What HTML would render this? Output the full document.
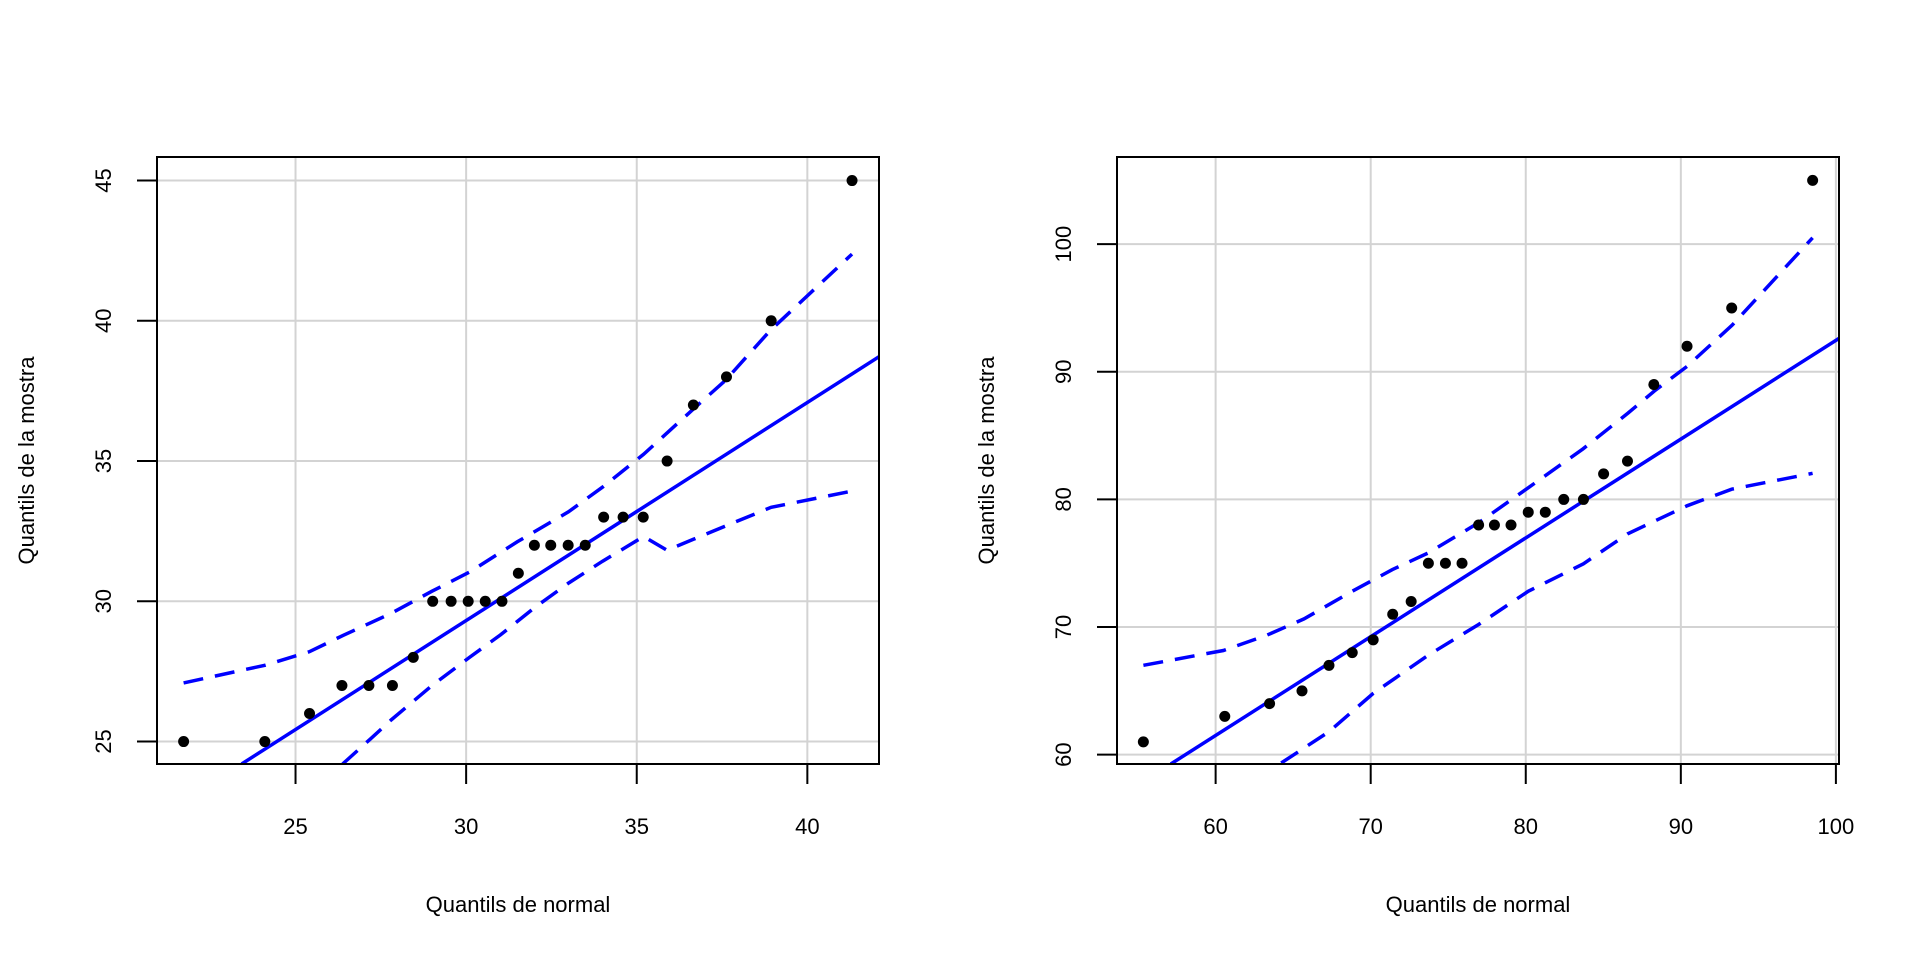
<!DOCTYPE html>
<html><head><meta charset="utf-8"><style>html,body{margin:0;padding:0;background:#fff}svg{display:block}text{font-family:"Liberation Sans",Arial,sans-serif;fill:#000}</style></head>
<body>
<svg id="chart" width="1920" height="960" viewBox="0 0 1920 960"></svg>
<script>
// Left panel data
const leftX = [21.72,24.10,25.41,26.36,27.15,27.84,28.45,29.02,29.56,30.06,30.56,31.05,31.53,32.0,32.48,32.99,33.49,34.03,34.60,35.19,35.89,36.66,37.63,38.94,41.31];
const leftY = [25,25,26,27,27,27,28,30,30,30,30,30,31,32,32,32,32,33,33,33,35,37,38,40,45];
const leftLine = [[23.42,24.2],[42.1,38.72]];
const leftUpper = [[21.72,27.09],[24.1,27.72],[25.4,28.2],[26.4,28.79],[27.8,29.57],[29.0,30.36],[30.1,31.04],[31.5,32.12],[33.0,33.19],[34.0,34.07],[35.2,35.24],[36.7,36.9],[37.6,37.88],[38.9,39.64],[41.31,42.38]];
const leftLower = [[26.38,24.2],[27.2,25.1],[27.8,25.77],[29.0,27.0],[30.1,28.0],[31.0,28.8],[32.0,29.77],[33.0,30.65],[34.0,31.43],[35.2,32.31],[35.89,31.82],[36.66,32.21],[37.63,32.70],[38.94,33.35],[41.31,33.93]];
const leftXTicks = [25,30,35,40];
const leftYTicks = [25,30,35,40,45];
// Right panel data
const rightX = [55.34,60.59,63.48,65.57,67.31,68.81,70.16,71.42,72.61,73.72,74.82,75.89,76.96,77.98,79.05,80.16,81.26,82.45,83.72,85.02,86.56,88.26,90.40,93.28,98.5];
const rightY = [61,63,64,65,67,68,69,71,72,75,75,75,78,78,78,79,79,80,80,82,83,89,92,95,105];
const rightLine = [[57.11,59.27],[100.24,92.65]];
const rightUpper = [[55.34,67.0],[60.5,68.16],[63.3,69.36],[65.7,70.64],[68.8,72.8],[71.4,74.5],[73.7,75.8],[77.0,78.2],[80.2,80.95],[83.7,83.97],[86.6,86.77],[88.3,88.5],[90.4,90.42],[93.3,93.64],[98.5,100.5]];
const rightLower = [[64.23,59.35],[67.31,61.8],[70.16,64.8],[73.72,67.8],[76.96,70.2],[80.16,72.8],[83.72,74.96],[86.56,77.3],[90.4,79.5],[93.28,80.8],[98.5,82.05]];
const rightXTicks = [60,70,80,90,100];
const rightYTicks = [60,70,80,90,100];

const svg = document.getElementById('chart');
const NS = 'http://www.w3.org/2000/svg';
function mk(tag, attrs, parent){const e=document.createElementNS(NS,tag);for(const k in attrs)e.setAttribute(k,attrs[k]);(parent||svg).appendChild(e);return e;}

function panel(id, off, xd, yd, px, py, line, up, lo, xt, yt){
  const L=157+off, R=879+off, T=157, B=764;
  const sx=v=>L+(v-xd[0])/(xd[1]-xd[0])*(R-L);
  const sy=v=>B-(v-yd[0])/(yd[1]-yd[0])*(B-T);
  const g=mk('g',{});
  
  
  const clip=mk('clipPath',{id:id+'-clip'},g);
  mk('rect',{x:L,y:T,width:R-L,height:B-T},clip);
  const grid=mk('g',{},g);
  
  
  xt.forEach(v=>mk('line',{x1:sx(v),x2:sx(v),y1:T,y2:B,stroke:'#d3d3d3','stroke-width':2},grid));
  yt.forEach(v=>mk('line',{x1:L,x2:R,y1:sy(v),y2:sy(v),stroke:'#d3d3d3','stroke-width':2},grid));
  const cg=mk('g',{'clip-path':'url(#'+id+'-clip)'},g);
  const ln=mk('line',{x1:sx(line[0][0]),y1:sy(line[0][1]),x2:sx(line[1][0]),y2:sy(line[1][1]),stroke:'#0000ff','stroke-width':3.5},cg);
  
  
  [[up,'upper'],[lo,'lower']].forEach(([arr,n])=>{
    const p=mk('path',{d:'M'+arr.map(q=>sx(q[0]).toFixed(1)+','+sy(q[1]).toFixed(1)).join('L'),fill:'none',stroke:'#0000ff','stroke-width':3.5,'stroke-dasharray':'20 12'},cg);
    
    
  });
  px.forEach((v,i)=>{
    const c=mk('circle',{cx:sx(v),cy:sy(py[i]),r:5.5,fill:'#000'},g);
    
    
  });
  const box=mk('rect',{x:L,y:T,width:R-L,height:B-T,fill:'none',stroke:'#000','stroke-width':2},g);
  
  
  xt.forEach(v=>{
    mk('line',{x1:sx(v),x2:sx(v),y1:B,y2:B+20,stroke:'#000','stroke-width':2},g);
    const t=mk('text',{x:sx(v),y:834,'text-anchor':'middle','font-size':22},g);
    t.textContent=v;
    
    
  });
  yt.forEach(v=>{
    mk('line',{x1:L-20,x2:L,y1:sy(v),y2:sy(v),stroke:'#000','stroke-width':2},g);
    const t=mk('text',{x:0,y:0,'text-anchor':'middle','font-size':22,transform:'translate('+(off+111)+','+sy(v)+') rotate(-90)'},g);
    t.textContent=v;
    
    
  });
  const xt2=mk('text',{x:(L+R)/2,y:912,'text-anchor':'middle','font-size':22},g);
  xt2.textContent='Quantils de normal';
  
  
  const yt2=mk('text',{x:0,y:0,'text-anchor':'middle','font-size':22,transform:'translate('+(off+34)+','+((T+B)/2)+') rotate(-90)'},g);
  yt2.textContent='Quantils de la mostra';
  
  
}
panel('left',0,[20.94,42.10],[24.20,45.84],leftX,leftY,leftLine,leftUpper,leftLower,leftXTicks,leftYTicks);
panel('right',960,[53.64,100.2],[59.27,106.83],rightX,rightY,rightLine,rightUpper,rightLower,rightXTicks,rightYTicks);
</script>
</body></html>
